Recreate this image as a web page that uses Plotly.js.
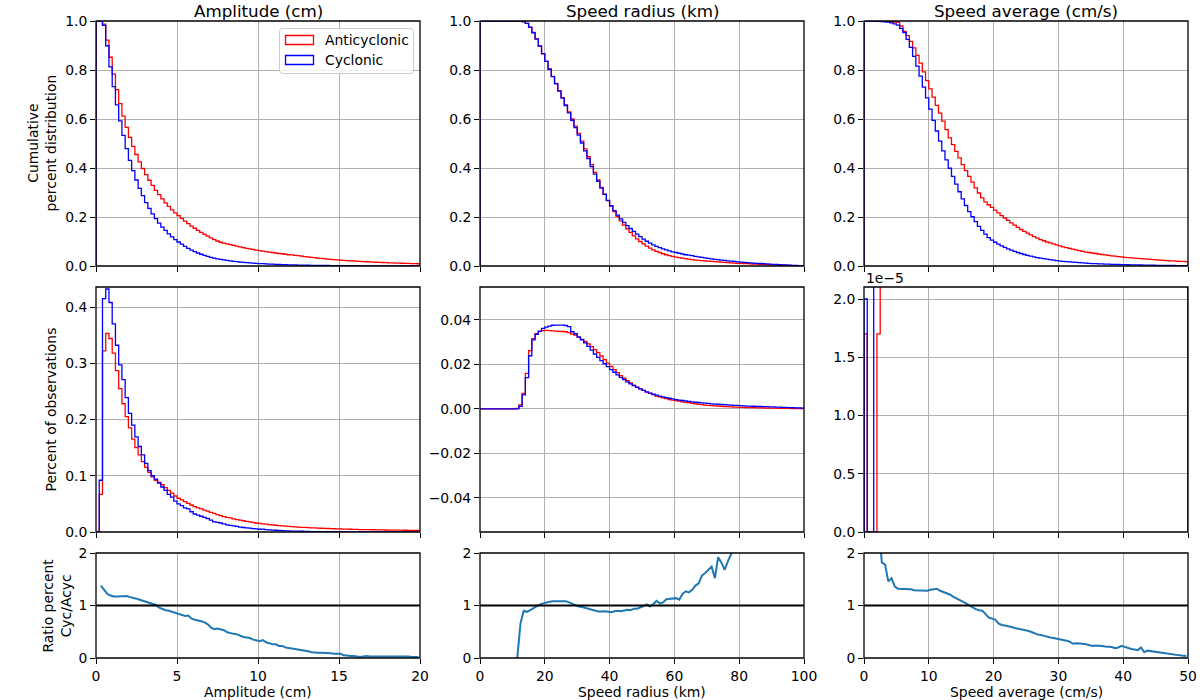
<!DOCTYPE html>
<html>
<head>
<meta charset="utf-8">
<script src="https://cdn.plot.ly/plotly-3.0.1.min.js"></script>
<style>
  html, body { margin: 0; padding: 0; background: #ffffff; }
  #chart { width: 1200px; height: 700px; }
</style>
</head>
<body>
<div id="chart"></div>
<script>
// ---- Histogram settings (100 bins per quantity) ----
const nBins = 100;
const ampBinWidth = 0.2;   // cm
const radBinWidth = 1;     // km
const spdBinWidth = 0.5;   // cm/s

// ---- Amplitude (cm) ----
const ampCumAnti = [1.0, 1.0, 0.987, 0.922, 0.852, 0.783, 0.720, 0.663, 0.612, 0.566,
  0.525, 0.488, 0.455, 0.425, 0.398, 0.373, 0.350, 0.329, 0.309, 0.291,
  0.274, 0.258, 0.243, 0.229, 0.217, 0.206, 0.194, 0.183, 0.173, 0.163,
  0.154, 0.145, 0.137, 0.129, 0.122, 0.115, 0.108, 0.102, 0.097, 0.093,
  0.090, 0.087, 0.084, 0.081, 0.078, 0.075, 0.072, 0.070, 0.068, 0.065,
  0.063, 0.061, 0.059, 0.057, 0.055, 0.053, 0.051, 0.050, 0.048, 0.046,
  0.045, 0.043, 0.042, 0.040, 0.038, 0.037, 0.035, 0.034, 0.032, 0.031,
  0.030, 0.028, 0.027, 0.026, 0.025, 0.0240, 0.0230, 0.0221, 0.0212, 0.0204,
  0.0196, 0.0188, 0.0181, 0.0174, 0.0167, 0.0160, 0.0154, 0.0148, 0.0142, 0.0137,
  0.0131, 0.0126, 0.0121, 0.0116, 0.0112, 0.0108, 0.0104, 0.0100, 0.0096, 0.0092];
const ampCumCyc = [1.0, 1.0, 0.982, 0.899, 0.813, 0.732, 0.658, 0.592, 0.533, 0.479,
  0.431, 0.389, 0.351, 0.317, 0.287, 0.259, 0.235, 0.213, 0.193, 0.175,
  0.159, 0.145, 0.131, 0.119, 0.108, 0.098, 0.089, 0.080, 0.072, 0.065,
  0.059, 0.053, 0.048, 0.043, 0.039, 0.035, 0.032, 0.029, 0.027, 0.025,
  0.023, 0.021, 0.019, 0.018, 0.016, 0.015, 0.014, 0.013, 0.012, 0.011,
  0.0100, 0.0093, 0.0086, 0.0079, 0.0073, 0.0067, 0.0062, 0.0057, 0.0053, 0.0049,
  0.0045, 0.0042, 0.0039, 0.0036, 0.0033, 0.0031, 0.0029, 0.0027, 0.0025, 0.0023,
  0.0021, 0.0020, 0.0018, 0.0017, 0.0016, 0.0015, 0.0014, 0.0013, 0.0012, 0.0011,
  0.0010, 0.00095, 0.0009, 0.00085, 0.0008, 0.00075, 0.0007, 0.00066, 0.00062, 0.00058,
  0.00055, 0.00052, 0.00049, 0.00046, 0.00043, 0.0004, 0.00038, 0.00036, 0.00034, 0.00032];
const ampPctAnti = [0, 0.067, 0.322, 0.353, 0.344, 0.318, 0.287, 0.255, 0.228, 0.205,
  0.185, 0.165, 0.150, 0.137, 0.125, 0.115, 0.106, 0.098, 0.092, 0.088,
  0.084, 0.079, 0.074, 0.069, 0.064, 0.060, 0.057, 0.054, 0.051, 0.048,
  0.045, 0.043, 0.041, 0.039, 0.037, 0.035, 0.033, 0.031, 0.029, 0.0275,
  0.026, 0.025, 0.0235, 0.022, 0.021, 0.020, 0.019, 0.018, 0.017, 0.016,
  0.0153, 0.0146, 0.0139, 0.0132, 0.0126, 0.0120, 0.0115, 0.0110, 0.0105, 0.0100,
  0.0096, 0.0092, 0.0088, 0.0084, 0.0081, 0.0078, 0.0075, 0.0072, 0.0069, 0.0067,
  0.0064, 0.0062, 0.0060, 0.0058, 0.0056, 0.0054, 0.0052, 0.0050, 0.0049, 0.0047,
  0.0046, 0.0044, 0.0043, 0.0042, 0.0041, 0.0040, 0.0039, 0.0038, 0.0037, 0.0036,
  0.0035, 0.0034, 0.0033, 0.0032, 0.0032, 0.0031, 0.0030, 0.0029, 0.0029, 0.0028];
const ampPctCyc = [0, 0.092, 0.415, 0.432, 0.408, 0.370, 0.332, 0.297, 0.271, 0.239,
  0.211, 0.190, 0.169, 0.152, 0.137, 0.122, 0.109, 0.100, 0.094, 0.087,
  0.080, 0.074, 0.067, 0.062, 0.055, 0.050, 0.047, 0.043, 0.041, 0.036,
  0.032, 0.030, 0.028, 0.026, 0.024, 0.021, 0.018, 0.017, 0.016, 0.0146,
  0.0127, 0.0118, 0.0108, 0.0099, 0.0088, 0.0080, 0.0074, 0.0068, 0.0060, 0.0054,
  0.0049, 0.0050, 0.0042, 0.0037, 0.0033, 0.0031, 0.0027, 0.0025, 0.0021, 0.0019,
  0.0017, 0.0016, 0.0015, 0.0013, 0.0012, 0.0010, 0.00083, 0.00072, 0.00069, 0.00067,
  0.00064, 0.00062, 0.00054, 0.00046, 0.00045, 0.00043, 0.00026, 0.00020, 0.00020, 0.00019,
  0.00014, 0.00009, 0.00013, 0.00017, 0.00012, 0.00012, 0.00015, 0.00015, 0.00015, 0.00013,
  0.00012, 0.00012, 0.00013, 0.00013, 0.00010, 0.00012, 0.00009, 0.00006, 0.00006, 0.00006];
const ampRatio = [null, 1.38, 1.29, 1.22, 1.19, 1.17, 1.17, 1.17, 1.17, 1.18,
  1.16, 1.15, 1.13, 1.11, 1.09, 1.07, 1.05, 1.03, 1.01, 0.96,
  0.93, 0.91, 0.90, 0.88, 0.86, 0.84, 0.81, 0.80, 0.81, 0.75,
  0.73, 0.72, 0.70, 0.68, 0.64, 0.58, 0.55, 0.56, 0.55, 0.53,
  0.49, 0.47, 0.46, 0.45, 0.42, 0.40, 0.39, 0.38, 0.35, 0.34,
  0.32, 0.34, 0.30, 0.28, 0.26, 0.26, 0.23, 0.23, 0.20, 0.19,
  0.18, 0.17, 0.17, 0.15, 0.15, 0.13, 0.11, 0.10, 0.10, 0.10,
  0.10, 0.10, 0.09, 0.08, 0.08, 0.08, 0.05, 0.04, 0.04, 0.04,
  0.03, 0.02, 0.03, 0.04, 0.03, 0.03, 0.04, 0.04, 0.04, 0.035,
  0.035, 0.035, 0.04, 0.04, 0.03, 0.04, 0.03, 0.02, 0.02, 0.02];

// ---- Speed radius (km) ----
const radCumAnti = [1, 1, 1, 1, 1, 1, 1, 1, 1, 1,
  1, 1, 1, 0.998, 0.990, 0.974, 0.952, 0.926, 0.897, 0.866,
  0.835, 0.804, 0.774, 0.745, 0.716, 0.687, 0.658, 0.629, 0.600, 0.571,
  0.541, 0.510, 0.478, 0.446, 0.414, 0.382, 0.351, 0.321, 0.293, 0.267,
  0.244, 0.222, 0.202, 0.184, 0.167, 0.152, 0.137, 0.123, 0.111, 0.100,
  0.090, 0.081, 0.073, 0.066, 0.060, 0.055, 0.050, 0.046, 0.042, 0.039,
  0.036, 0.034, 0.032, 0.030, 0.028, 0.026, 0.024, 0.023, 0.022, 0.021,
  0.020, 0.019, 0.018, 0.017, 0.016, 0.015, 0.014, 0.013, 0.012, 0.011,
  0.0105, 0.0099, 0.0093, 0.0087, 0.0081, 0.0075, 0.0069, 0.0063, 0.0057, 0.0051,
  0.0046, 0.0041, 0.0036, 0.0031, 0.0026, 0.0021, 0.0016, 0.0011, 0.0007, 0.0003];
const radCumCyc = [1, 1, 1, 1, 1, 1, 1, 1, 1, 1,
  1, 1, 1, 0.998, 0.990, 0.975, 0.953, 0.927, 0.898, 0.867,
  0.835, 0.803, 0.773, 0.743, 0.714, 0.685, 0.655, 0.625, 0.595, 0.565,
  0.534, 0.502, 0.470, 0.438, 0.406, 0.375, 0.346, 0.318, 0.292, 0.268,
  0.246, 0.226, 0.208, 0.192, 0.178, 0.165, 0.153, 0.141, 0.130, 0.120,
  0.110, 0.101, 0.093, 0.086, 0.080, 0.075, 0.070, 0.066, 0.062, 0.058,
  0.055, 0.052, 0.049, 0.046, 0.044, 0.042, 0.039, 0.037, 0.035, 0.033,
  0.031, 0.029, 0.027, 0.026, 0.024, 0.023, 0.021, 0.020, 0.019, 0.017,
  0.016, 0.015, 0.014, 0.013, 0.012, 0.011, 0.0102, 0.0094, 0.0086, 0.0078,
  0.0070, 0.0063, 0.0056, 0.0049, 0.0042, 0.0035, 0.0028, 0.0021, 0.0014, 0.0007];
const radPctAnti = [0, 0, 0, 0, 0, 0, 0, 0, 0, 0,
  0, 0.0003, 0.0018, 0.0070, 0.0160, 0.0262, 0.0316, 0.0338, 0.0348, 0.0352,
  0.0353, 0.0352, 0.0351, 0.0350, 0.0349, 0.0348, 0.0347, 0.0343, 0.0336, 0.0332,
  0.0322, 0.0313, 0.0303, 0.0292, 0.0280, 0.0267, 0.0253, 0.0238, 0.0222, 0.0206,
  0.0191, 0.0177, 0.0163, 0.0150, 0.0138, 0.0127, 0.0117, 0.0107, 0.0098, 0.0090,
  0.0083, 0.0076, 0.0070, 0.0064, 0.0058, 0.0054, 0.0050, 0.0046, 0.0042, 0.0040,
  0.0037, 0.0035, 0.0032, 0.0030, 0.0028, 0.0025, 0.0023, 0.0021, 0.0019, 0.0017,
  0.0016, 0.0015, 0.0014, 0.0013, 0.0012, 0.0011, 0.0010, 0.0009, 0.0008, 0.0008,
  0.0007, 0.0007, 0.0006, 0.0006, 0.0006, 0.0005, 0.0005, 0.0005, 0.0004, 0.0004,
  0.0004, 0.0004, 0.0003, 0.0003, 0.0003, 0.0003, 0.0002, 0.0002, 0.0002, 0.0002];
const radPctCyc = [0, 0, 0, 0, 0, 0, 0, 0, 0, 0,
  0, 0, 0.0012, 0.0063, 0.0141, 0.0239, 0.0310, 0.0335, 0.0350, 0.0362,
  0.0368, 0.0372, 0.0376, 0.0377, 0.0377, 0.0377, 0.0375, 0.0370, 0.0347, 0.0338,
  0.0324, 0.0311, 0.0297, 0.0281, 0.0264, 0.0247, 0.0232, 0.0217, 0.0203, 0.0190,
  0.0177, 0.0165, 0.0153, 0.0142, 0.0132, 0.0122, 0.0113, 0.0105, 0.0097, 0.0090,
  0.0083, 0.0077, 0.0071, 0.0066, 0.0062, 0.0058, 0.0054, 0.0051, 0.0048, 0.0045,
  0.0042, 0.0040, 0.0038, 0.0036, 0.0034, 0.0032, 0.0030, 0.0029, 0.0027, 0.0026,
  0.0025, 0.0023, 0.0022, 0.0021, 0.0020, 0.0019, 0.0018, 0.0017, 0.0016, 0.0016,
  0.0015, 0.0014, 0.0013, 0.0013, 0.0012, 0.0011, 0.0011, 0.0010, 0.0010, 0.0009,
  0.0009, 0.0008, 0.0008, 0.0007, 0.0007, 0.0006, 0.0006, 0.0005, 0.0005, 0.0004];
const radRatio = [null, null, null, null, null, null, null, null, null, null,
  null, 0.00, 0.66, 0.90, 0.88, 0.91, 0.95, 0.99, 1.02, 1.04,
  1.06, 1.07, 1.08, 1.08, 1.09, 1.09, 1.08, 1.06, 1.03, 1.00,
  0.98, 0.97, 0.95, 0.93, 0.91, 0.89, 0.885, 0.885, 0.89, 0.88,
  0.87, 0.89, 0.90, 0.89, 0.91, 0.92, 0.91, 0.94, 0.94, 0.96,
  0.99, 1.02, 0.98, 1.03, 1.09, 1.04, 1.06, 1.12, 1.13, 1.14,
  1.14, 1.11, 1.22, 1.27, 1.25, 1.30, 1.38, 1.42, 1.57, 1.62,
  1.68, 1.74, 1.52, 1.92, 1.82, 1.68, 1.84, 1.98, 2.2, 2.1,
  2.4, 2.3, 2.6, 2.5, 2.8, 2.7, 3.0, 2.9, 3.2, 3.1,
  3.4, 3.3, 3.6, 3.5, 3.8, 3.7, 4.0, 3.9, 4.2, 4.1];

// ---- Speed average (cm/s) ----
const spdCumAnti = [1, 1, 1, 1, 1, 0.999, 0.999, 0.998, 0.997, 0.996,
  0.994, 0.980, 0.958, 0.940, 0.917, 0.890, 0.860, 0.828, 0.792, 0.757,
  0.723, 0.689, 0.656, 0.624, 0.591, 0.557, 0.523, 0.495, 0.468, 0.441,
  0.414, 0.389, 0.366, 0.342, 0.319, 0.298, 0.278, 0.262, 0.250, 0.239,
  0.228, 0.217, 0.206, 0.196, 0.186, 0.176, 0.167, 0.158, 0.149, 0.141,
  0.134, 0.127, 0.120, 0.114, 0.108, 0.103, 0.098, 0.094, 0.090, 0.086,
  0.082, 0.078, 0.075, 0.072, 0.069, 0.066, 0.063, 0.060, 0.057, 0.055,
  0.053, 0.051, 0.049, 0.047, 0.045, 0.043, 0.041, 0.040, 0.038, 0.037,
  0.035, 0.034, 0.033, 0.032, 0.031, 0.030, 0.029, 0.028, 0.027, 0.026,
  0.025, 0.024, 0.023, 0.022, 0.021, 0.021, 0.020, 0.019, 0.019, 0.018];
const spdCumCyc = [1, 1, 1, 1, 0.999, 0.998, 0.997, 0.995, 0.992, 0.988,
  0.983, 0.970, 0.953, 0.925, 0.892, 0.856, 0.816, 0.775, 0.730, 0.686,
  0.640, 0.594, 0.551, 0.510, 0.470, 0.433, 0.399, 0.366, 0.334, 0.303,
  0.274, 0.247, 0.222, 0.201, 0.181, 0.162, 0.145, 0.130, 0.116, 0.106,
  0.097, 0.089, 0.082, 0.076, 0.070, 0.065, 0.060, 0.055, 0.051, 0.047,
  0.043, 0.040, 0.037, 0.034, 0.032, 0.030, 0.028, 0.026, 0.024, 0.022,
  0.020, 0.019, 0.018, 0.017, 0.016, 0.015, 0.014, 0.013, 0.012, 0.011,
  0.0100, 0.0095, 0.0090, 0.0085, 0.0080, 0.0075, 0.0070, 0.0066, 0.0062, 0.0058,
  0.0054, 0.0051, 0.0048, 0.0045, 0.0042, 0.0040, 0.0037, 0.0035, 0.0033, 0.0031,
  0.0029, 0.0027, 0.0025, 0.0023, 0.0022, 0.0020, 0.0019, 0.0017, 0.0016, 0.0015];
const spdPctAnti = [1.7e-5, 0, 0, 0, 1.7e-5, 0.0003, 0.002, 0.002, 0.002, 0.004,
  0.006, 0.028, 0.044, 0.036, 0.046, 0.054, 0.060, 0.064, 0.072, 0.070,
  0.068, 0.068, 0.064, 0.066, 0.068, 0.068, 0.056, 0.054, 0.054, 0.054,
  0.050, 0.048, 0.048, 0.042, 0.040, 0.038, 0.036, 0.030, 0.026, 0.022,
  0.022, 0.022, 0.022, 0.020, 0.020, 0.018, 0.018, 0.016, 0.016, 0.014,
  0.014, 0.012, 0.012, 0.012, 0.010, 0.010, 0.008, 0.008, 0.008, 0.008,
  0.008, 0.006, 0.006, 0.006, 0.006, 0.006, 0.006, 0.005, 0.005, 0.004,
  0.004, 0.004, 0.004, 0.004, 0.004, 0.004, 0.004, 0.003, 0.003, 0.003,
  0.003, 0.003, 0.002, 0.002, 0.002, 0.002, 0.002, 0.002, 0.002, 0.002,
  0.002, 0.002, 0.002, 0.002, 0.0015, 0.0015, 0.0015, 0.0015, 0.0012, 0.0012];
const spdPctCyc = [2.0e-5, 0, 0, 0.0004, 0.002, 0.002, 0.004, 0.006, 0.008, 0.010,
  0.026, 0.034, 0.056, 0.066, 0.072, 0.080, 0.082, 0.090, 0.088, 0.092,
  0.092, 0.086, 0.082, 0.080, 0.074, 0.068, 0.066, 0.064, 0.062, 0.058,
  0.054, 0.050, 0.042, 0.040, 0.038, 0.034, 0.030, 0.028, 0.020, 0.018,
  0.016, 0.014, 0.012, 0.012, 0.010, 0.010, 0.010, 0.008, 0.008, 0.008,
  0.006, 0.006, 0.006, 0.005, 0.005, 0.004, 0.004, 0.004, 0.004, 0.004,
  0.002, 0.002, 0.002, 0.002, 0.002, 0.002, 0.002, 0.002, 0.002, 0.002,
  0.001, 0.001, 0.001, 0.001, 0.001, 0.001, 0.001, 0.001, 0.001, 0.001,
  0.0008, 0.0008, 0.0008, 0.0007, 0.0007, 0.0006, 0.0006, 0.0006, 0.0005, 0.0005,
  0.0005, 0.0004, 0.0004, 0.0004, 0.0004, 0.0003, 0.0003, 0.0003, 0.0003, 0.0002];
const spdRatio = [null, null, null, null, 2.6, 1.82, 1.78, 1.46, 1.52, 1.36,
  1.32, 1.32, 1.31, 1.31, 1.31, 1.29, 1.29, 1.29, 1.29, 1.28,
  1.30, 1.31, 1.32, 1.28, 1.26, 1.24, 1.21, 1.17, 1.14, 1.11,
  1.08, 1.04, 1.00, 0.96, 0.93, 0.91, 0.90, 0.84, 0.77, 0.75,
  0.73, 0.66, 0.63, 0.62, 0.61, 0.59, 0.57, 0.56, 0.54, 0.53,
  0.52, 0.50, 0.47, 0.45, 0.44, 0.42, 0.40, 0.39, 0.38, 0.37,
  0.36, 0.34, 0.33, 0.31, 0.27, 0.28, 0.28, 0.27, 0.26, 0.24,
  0.23, 0.24, 0.24, 0.23, 0.22, 0.22, 0.21, 0.185, 0.20, 0.23,
  0.21, 0.18, 0.17, 0.16, 0.15, 0.20, 0.11, 0.14, 0.13, 0.12,
  0.11, 0.10, 0.10, 0.09, 0.08, 0.06, 0.06, 0.05, 0.045, 0.04];

// ---- Labels ----
const columnTitles = ['Amplitude (cm)', 'Speed radius (km)', 'Speed average (cm/s)'];
const seriesNames = ['Anticyclonic', 'Cyclonic'];
const rowLabels = ['Cumulative<br>percent distribution', 'Percent of observations', 'Ratio percent<br>Cyc/Acyc'];

// ---- Helpers ----
function binEdges(width) {
  const e = [];
  for (let i = 0; i <= nBins; i++) e.push(Math.round(i * width * 1e6) / 1e6);
  return e;
}
function binCenters(edges) {
  const c = [];
  for (let i = 0; i < edges.length - 1; i++) c.push((edges[i] + edges[i + 1]) / 2);
  return c;
}
// Outline of a step histogram: up from the baseline, across each bin, back down.
function stepOutline(edges, vals) {
  const n = vals.length;
  const xs = [edges[0]], ys = [0];
  for (let i = 0; i < n; i++) { xs.push(edges[i]); ys.push(vals[i]); }
  xs.push(edges[n], edges[n]); ys.push(vals[n - 1], 0);
  return { xs, ys };
}

const W = 1200, H = 700;
const FONT = 'DejaVu Sans';
const RED = '#ff0000', BLUE = '#0000ff', RATIO = '#1f77b4';
const colPx = [[96, 420], [480, 804], [864, 1188]];
const rowPx = [[21, 266], [287, 532], [553, 658]];

const columns = [
  { edges: binEdges(ampBinWidth), cum: [ampCumAnti, ampCumCyc], pct: [ampPctAnti, ampPctCyc], ratio: ampRatio, xr: [0, 20], dx: 5 },
  { edges: binEdges(radBinWidth), cum: [radCumAnti, radCumCyc], pct: [radPctAnti, radPctCyc], ratio: radRatio, xr: [0, 100], dx: 20 },
  { edges: binEdges(spdBinWidth), cum: [spdCumAnti, spdCumCyc], pct: [spdPctAnti, spdPctCyc], ratio: spdRatio, xr: [0, 50], dx: 10 }
];

const traces = [];
const layout = {
  width: W, height: H,
  margin: { l: 0, r: 0, t: 0, b: 0 },
  paper_bgcolor: '#ffffff', plot_bgcolor: '#ffffff',
  showlegend: false,
  font: { family: FONT, size: 13.9, color: '#000000' },
  annotations: [], shapes: []
};

function axisBase() {
  return {
    showline: false,
    ticks: 'outside', ticklen: 5, tickwidth: 1, tickcolor: '#000000',
    showgrid: true, gridcolor: '#b0b0b0', gridwidth: 1,
    zeroline: false, fixedrange: true,
    tickfont: { family: FONT, size: 13.9, color: '#000000' }
  };
}

for (let r = 0; r < 3; r++) {
  for (let c = 0; c < 3; c++) {
    const k = r * 3 + c + 1;
    const sfx = k === 1 ? '' : String(k);
    const col = columns[c];
    const xa = axisBase(), ya = axisBase();
    xa.domain = [colPx[c][0] / W, colPx[c][1] / W];
    ya.domain = [1 - rowPx[r][1] / H, 1 - rowPx[r][0] / H];
    xa.anchor = 'y' + sfx; ya.anchor = 'x' + sfx;
    xa.range = col.xr; xa.tick0 = 0; xa.dtick = col.dx;
    xa.showticklabels = (r === 2);

    if (r === 0) {
      ya.range = [0, 1]; ya.tick0 = 0; ya.dtick = 0.2; ya.tickformat = '.1f';
    } else if (r === 1) {
      if (c === 0) { ya.range = [0, 0.4356]; ya.tick0 = 0; ya.dtick = 0.1; ya.tickformat = '.1f'; }
      if (c === 1) { ya.range = [-0.0553, 0.0548]; ya.tick0 = 0; ya.dtick = 0.02; ya.tickformat = '.2f'; }
      if (c === 2) {
        ya.range = [0, 2.103e-5];
        ya.tickmode = 'array';
        ya.tickvals = [0, 0.5e-5, 1.0e-5, 1.5e-5, 2.0e-5];
        ya.ticktext = ['0.0', '0.5', '1.0', '1.5', '2.0'];
      }
    } else {
      ya.range = [0, 2]; ya.tick0 = 0; ya.dtick = 1;
    }
    layout['xaxis' + sfx] = xa;
    layout['yaxis' + sfx] = ya;

    if (r < 2) {
      const series = r === 0 ? col.cum : col.pct;
      [0, 1].forEach(s => {
        const o = stepOutline(col.edges, series[s]);
        traces.push({
          type: 'scatter', mode: 'lines', x: o.xs, y: o.ys,
          xaxis: 'x' + sfx, yaxis: 'y' + sfx, name: seriesNames[s],
          line: { color: s === 0 ? RED : BLUE, width: 1.3, shape: 'hv' },
          hoverinfo: 'skip'
        });
      });
    } else {
      traces.push({
        type: 'scatter', mode: 'lines', x: binCenters(col.edges), y: col.ratio,
        xaxis: 'x' + sfx, yaxis: 'y' + sfx, name: 'Cyc/Acyc',
        line: { color: RATIO, width: 2 }, connectgaps: false, hoverinfo: 'skip'
      });
      layout.shapes.push({
        type: 'line', xref: 'x' + sfx + ' domain', x0: 0, x1: 1,
        yref: 'y' + sfx, y0: 1, y1: 1, line: { color: '#000000', width: 2 }
      });
      // bottom axis label
      layout.annotations.push({
        text: columnTitles[c], xref: 'paper', yref: 'paper',
        x: (colPx[c][0] + colPx[c][1]) / 2 / W, y: 1 - 692 / H,
        xanchor: 'center', yanchor: 'middle', showarrow: false,
        font: { family: FONT, size: 13.9, color: '#000000' }
      });
    }
    // axes frame drawn over the curves, centred on the plot edge
    layout.shapes.push({
      type: 'rect', xref: 'x' + sfx + ' domain', yref: 'y' + sfx + ' domain',
      x0: 0, x1: 1, y0: 0, y1: 1, layer: 'above',
      line: { color: '#000000', width: 1.3 }, fillcolor: 'rgba(0,0,0,0)'
    });
  }
}

// Column titles
columnTitles.forEach((t, c) => {
  layout.annotations.push({
    text: t, xref: 'paper', yref: 'paper',
    x: (colPx[c][0] + colPx[c][1]) / 2 / W, y: 1 - 0.5 / H,
    xanchor: 'center', yanchor: 'top', showarrow: false, borderpad: 0,
    font: { family: FONT, size: 16.7, color: '#000000' }
  });
});

// Row labels (left side)
const rowLabelX = [42, 50, 56];
rowLabels.forEach((t, r) => {
  layout.annotations.push({
    text: t, xref: 'paper', yref: 'paper', textangle: -90,
    x: rowLabelX[r] / W, y: 1 - (rowPx[r][0] + rowPx[r][1]) / 2 / H,
    xanchor: 'center', yanchor: 'middle', showarrow: false,
    font: { family: FONT, size: 13.9, color: '#000000' }
  });
});

// Offset exponent of the speed-average histogram axis
layout.annotations.push({
  text: '1e\u22125', xref: 'paper', yref: 'paper',
  x: 864 / W, y: 1 - 278 / H, xanchor: 'left', yanchor: 'middle', showarrow: false,
  font: { family: FONT, size: 13.9, color: '#000000' }
});

// Legend box inside the amplitude cumulative panel (rounded frame)
function px(x) { return x / W; }
function py(y) { return 1 - y / H; }
(function legendFrame() {
  const x0 = 279.5, x1 = 413.5, y0 = 28.5, y1 = 73.5, rad = 3;
  const P = (x, y) => px(x) + ',' + py(y);
  const path = 'M' + P(x0 + rad, y0) + ' L' + P(x1 - rad, y0) + ' Q' + P(x1, y0) + ' ' + P(x1, y0 + rad) +
    ' L' + P(x1, y1 - rad) + ' Q' + P(x1, y1) + ' ' + P(x1 - rad, y1) +
    ' L' + P(x0 + rad, y1) + ' Q' + P(x0, y1) + ' ' + P(x0, y1 - rad) +
    ' L' + P(x0, y0 + rad) + ' Q' + P(x0, y0) + ' ' + P(x0 + rad, y0) + ' Z';
  layout.shapes.push({
    type: 'path', xref: 'paper', yref: 'paper', path: path, layer: 'above',
    line: { color: '#cccccc', width: 1 }, fillcolor: 'rgba(255,255,255,0.8)'
  });
})();
[[35.5, 44.5, RED], [55.5, 64.5, BLUE]].forEach(([t, b, colr]) => {
  layout.shapes.push({
    type: 'rect', xref: 'paper', yref: 'paper', layer: 'above',
    x0: px(285.5), x1: px(313.5), y0: py(b), y1: py(t),
    line: { color: colr, width: 1.3 }, fillcolor: 'rgba(0,0,0,0)'
  });
});
seriesNames.forEach((n, i) => {
  layout.annotations.push({
    text: n, xref: 'paper', yref: 'paper',
    x: px(323), y: py(i === 0 ? 40 : 60), xanchor: 'left', yanchor: 'middle', showarrow: false,
    font: { family: FONT, size: 13.9, color: '#000000' }
  });
});

Plotly.newPlot('chart', traces, layout, { staticPlot: true, displayModeBar: false });
</script>
</body>
</html>
